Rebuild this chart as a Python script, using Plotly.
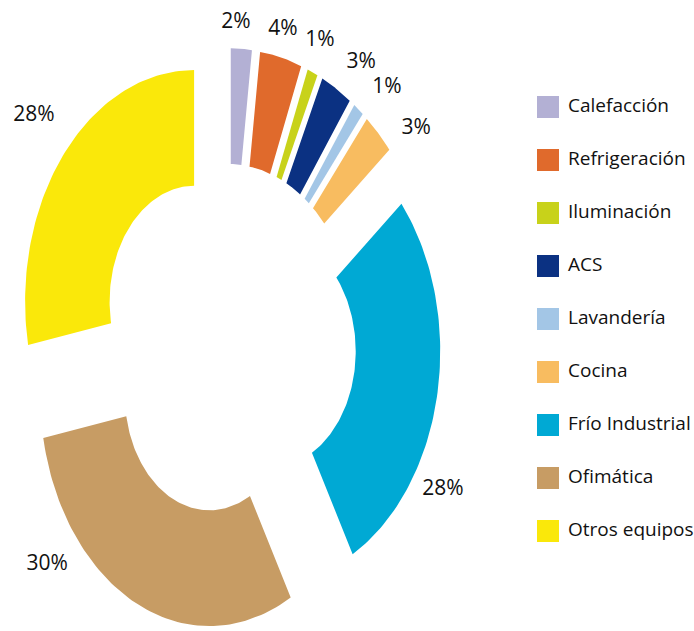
import numpy as np
import plotly.graph_objects as go

# ---------------- data ----------------
categories = ["Calefacción", "Refrigeración", "Iluminación", "ACS", "Lavandería",
              "Cocina", "Frío Industrial", "Ofimática", "Otros equipos"]
values = [2, 4, 1, 3, 1, 3, 28, 30, 28]

# ---------------- style ----------------
colors = ["#b3b0d4", "#e06a2c", "#c8d21a", "#0b3182", "#a3c6e6",
          "#f8bc60", "#00a9d4", "#c79c64", "#fae80a"]
CX, CY = 228.0, 340.0      # donut centre (pixel-like units)
R_OUT, R_IN = 169.0, 84.5  # radii
STRETCH = 1.37             # vertical stretch of the donut
PULL = 44.0                # explode distance of every slice
label_radius = [187.5, 188.8, 192.9, 198.0, 199.0, 199.4, 199.0, 204.0, 209.6]
label_shift = [-2.0, -0.9, -0.7, 3.4, 3.7, 7.0, 19.6, 27.4, 0.6]   # degrees
LABEL_FONT = dict(family="Open Sans", size=21, color="#111111")
LEGEND_FONT = dict(family="Open Sans", size=19, color="#111111")


def pt(cx, cy, r, ang_deg):
    a = np.radians(ang_deg)
    return cx + r * np.sin(a), cy - STRETCH * r * np.cos(a)


fig = go.Figure()

total = float(sum(values))
start = 0.0
lab_x, lab_y, lab_t = [], [], []
for i, (name, v, col) in enumerate(zip(categories, values, colors)):
    span = 360.0 * v / total
    end = start + span
    mid = (start + end) / 2
    pcx, pcy = pt(CX, CY, PULL, mid)
    ang = np.linspace(start, end, 80)
    ox, oy = pt(pcx, pcy, R_OUT, ang)
    ix, iy = pt(pcx, pcy, R_IN, ang[::-1])
    xs = np.concatenate([ox, ix, ox[:1]])
    ys = np.concatenate([oy, iy, oy[:1]])
    fig.add_trace(go.Scatter(
        x=xs, y=ys, mode="lines", fill="toself", fillcolor=col,
        line=dict(width=0, color=col), name=name, showlegend=False,
        hoveron="fills", hoverinfo="text", text=f"{name}: {v}%",
        xaxis="x", yaxis="y",
    ))
    lx, ly = pt(pcx, pcy, label_radius[i], mid + label_shift[i])
    lab_x.append(lx)
    lab_y.append(ly)
    lab_t.append(f"{v}%")
    start = end

fig.add_trace(go.Scatter(
    x=lab_x, y=lab_y, text=lab_t, mode="text", textposition="middle center",
    textfont=LABEL_FONT, showlegend=False, hoverinfo="skip",
    xaxis="x", yaxis="y",
))

# legend drawn as a small categorical chart
fig.add_trace(go.Scatter(
    x=[11] * len(categories), y=categories, mode="markers",
    marker=dict(symbol="square", size=22, color=colors, line=dict(width=0)),
    showlegend=False, hoverinfo="skip", xaxis="x2", yaxis="y2",
))
fig.add_trace(go.Scatter(
    x=[31] * len(categories), y=categories, mode="text", text=categories,
    textposition="middle right", textfont=LEGEND_FONT,
    showlegend=False, hoverinfo="skip", xaxis="x2", yaxis="y2",
))

fig.update_layout(
    width=694, height=631, margin=dict(l=0, r=0, t=0, b=0),
    paper_bgcolor="white", plot_bgcolor="rgba(0,0,0,0)",
    xaxis=dict(range=[0, 694], domain=[0, 1], visible=False, fixedrange=True),
    yaxis=dict(range=[631, 0], domain=[0, 1], visible=False, fixedrange=True),
    xaxis2=dict(range=[0, 157], domain=[537 / 694, 1], visible=False,
                anchor="y2", fixedrange=True),
    yaxis2=dict(type="category", categoryorder="array", categoryarray=categories,
                range=[8.5, -0.5], domain=[1 - 557.5 / 631, 1 - 80.5 / 631],
                visible=False, anchor="x2", fixedrange=True),
)

fig.write_html("out.html")
